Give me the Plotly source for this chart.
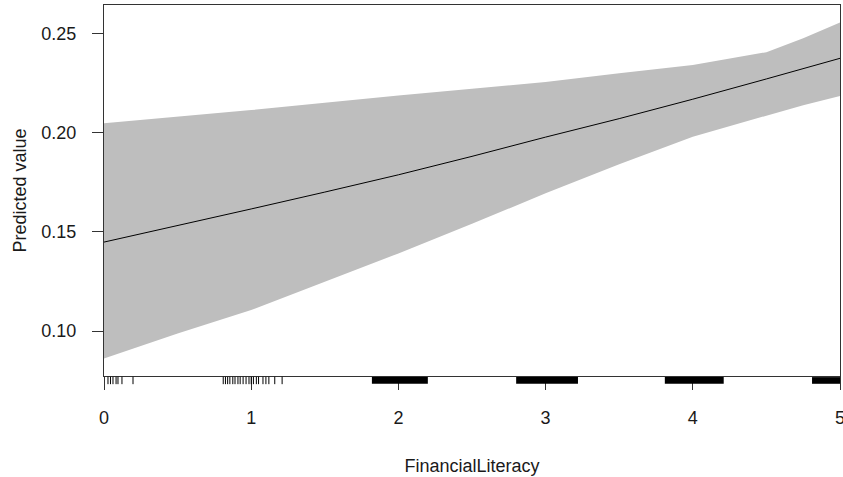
import plotly.graph_objects as go

# Effect grid
x_grid = [0, 0.5, 1, 1.5, 2, 2.5, 3, 3.5, 4, 4.5, 4.75, 5]
fit = [0.1448, 0.1530, 0.1615, 0.1700, 0.1787, 0.1880, 0.1977, 0.2070, 0.2168, 0.2270, 0.2322, 0.2374]
upper = [0.2047, 0.2080, 0.2113, 0.2150, 0.2187, 0.2220, 0.2255, 0.2299, 0.2340, 0.2405, 0.2475, 0.2555]
lower = [0.0862, 0.0988, 0.1106, 0.1248, 0.1391, 0.1540, 0.1694, 0.1840, 0.1979, 0.2085, 0.2138, 0.2184]

# Rug: sparse individual observations
rug_ticks = [0.027, 0.044, 0.061, 0.082, 0.095, 0.122, 0.197,
             0.81, 0.825, 0.84, 0.855, 0.875, 0.89, 0.91, 0.925, 0.945, 0.965,
             0.985, 1.0, 1.015, 1.035, 1.05, 1.08, 1.10, 1.12, 1.16, 1.21]
# Rug: dense clusters (start, end) that render as solid bars
rug_band_start = [1.82, 2.80, 3.81, 4.81]
rug_band_end = [2.20, 3.22, 4.21, 5.00]

x_ticks = [0, 1, 2, 3, 4, 5]
y_ticks = [0.10, 0.15, 0.20, 0.25]
y_tick_text = ["0.10", "0.15", "0.20", "0.25"]

FONT = "Liberation Sans, Arial, sans-serif"
AX = "#333333"

fig = go.Figure()
fig.add_trace(go.Scatter(
    x=x_grid + x_grid[::-1], y=upper + lower[::-1],
    fill="toself", fillcolor="#bebebe", line=dict(width=0),
    mode="lines", hoverinfo="skip", showlegend=False))
fig.add_trace(go.Scatter(
    x=x_grid, y=fit, mode="lines", line=dict(color="#000000", width=1),
    showlegend=False))

shapes = []
for t in rug_ticks:
    shapes.append(dict(type="line", xref="x", yref="paper", x0=t, x1=t,
                       y0=-0.002, y1=-0.022, line=dict(color="#000000", width=1)))
for s, e in zip(rug_band_start, rug_band_end):
    shapes.append(dict(type="rect", xref="x", yref="paper", x0=s, x1=e,
                       y0=-0.003, y1=-0.021, fillcolor="#000000",
                       line=dict(width=0)))

fig.update_layout(
    width=843, height=477,
    margin=dict(l=104, r=3, t=5, b=101, autoexpand=False),
    plot_bgcolor="white", paper_bgcolor="white",
    font=dict(family=FONT, size=18, color="#1a1a1a"),
    shapes=shapes,
    xaxis=dict(range=[0, 5], tickvals=x_ticks, ticks="outside", ticklen=13,
               tickcolor=AX, showline=True, linecolor=AX, linewidth=1, mirror=True,
               showgrid=False, zeroline=False, ticklabelstandoff=12, automargin=False,
               ticklabeloverflow="allow",
               title=dict(text="FinancialLiteracy", standoff=32,
                          font=dict(family=FONT, size=18))),
    yaxis=dict(range=[0.07733, 0.26426], tickvals=y_ticks, ticktext=y_tick_text,
               ticks="outside", ticklen=11, tickcolor=AX, showline=True,
               linecolor=AX, linewidth=1, mirror=True, showgrid=False,
               zeroline=False, ticklabelstandoff=12, automargin=False,
               title=dict(text="Predicted value", standoff=10,
                          font=dict(family=FONT, size=18))),
)

fig.write_html("out.html", config={"displayModeBar": False},
               post_script="document.body.style.margin='0';document.body.style.overflow='hidden';")
